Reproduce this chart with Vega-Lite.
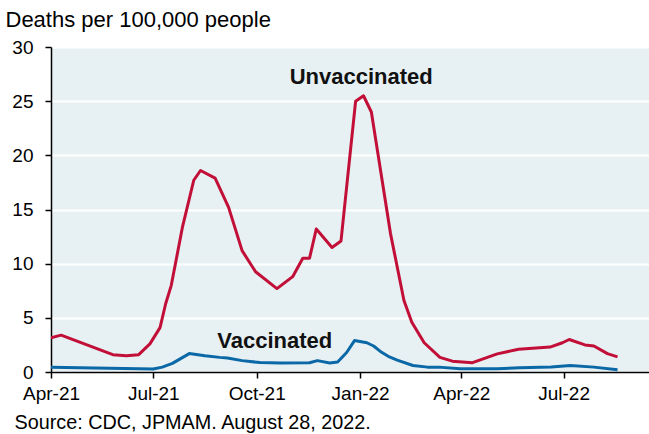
{
  "$schema": "https://vega.github.io/schema/vega-lite/v6.json",
  "width": 598,
  "height": 325,
  "autosize": {"type": "none"},
  "padding": {"left": 51, "top": 47, "right": 0, "bottom": 62},
  "background": "white",
  "config": {
    "view": {"fill": "#e7f0f3", "stroke": null},
    "font": "Liberation Sans"
  },
  "datasets": {
    "series": [
      {"series": "Unvaccinated", "date": "2021-04-01T00:00:00", "value": 3.15},
      {"series": "Unvaccinated", "date": "2021-04-10T00:00:00", "value": 3.4},
      {"series": "Unvaccinated", "date": "2021-05-26T00:00:00", "value": 1.6},
      {"series": "Unvaccinated", "date": "2021-06-07T00:00:00", "value": 1.5},
      {"series": "Unvaccinated", "date": "2021-06-18T00:00:00", "value": 1.6},
      {"series": "Unvaccinated", "date": "2021-06-28T00:00:00", "value": 2.6},
      {"series": "Unvaccinated", "date": "2021-07-07T00:00:00", "value": 4.1},
      {"series": "Unvaccinated", "date": "2021-07-12T00:00:00", "value": 6.3},
      {"series": "Unvaccinated", "date": "2021-07-17T00:00:00", "value": 8.0},
      {"series": "Unvaccinated", "date": "2021-07-27T00:00:00", "value": 13.4},
      {"series": "Unvaccinated", "date": "2021-08-06T00:00:00", "value": 17.7},
      {"series": "Unvaccinated", "date": "2021-08-12T00:00:00", "value": 18.6},
      {"series": "Unvaccinated", "date": "2021-08-25T00:00:00", "value": 17.9},
      {"series": "Unvaccinated", "date": "2021-09-06T00:00:00", "value": 15.2},
      {"series": "Unvaccinated", "date": "2021-09-18T00:00:00", "value": 11.2},
      {"series": "Unvaccinated", "date": "2021-09-30T00:00:00", "value": 9.25},
      {"series": "Unvaccinated", "date": "2021-10-19T00:00:00", "value": 7.7},
      {"series": "Unvaccinated", "date": "2021-11-02T00:00:00", "value": 8.8},
      {"series": "Unvaccinated", "date": "2021-11-11T00:00:00", "value": 10.5},
      {"series": "Unvaccinated", "date": "2021-11-17T00:00:00", "value": 10.5},
      {"series": "Unvaccinated", "date": "2021-11-23T00:00:00", "value": 13.2},
      {"series": "Unvaccinated", "date": "2021-12-07T00:00:00", "value": 11.5},
      {"series": "Unvaccinated", "date": "2021-12-15T00:00:00", "value": 12.1},
      {"series": "Unvaccinated", "date": "2021-12-28T00:00:00", "value": 25.0},
      {"series": "Unvaccinated", "date": "2022-01-04T00:00:00", "value": 25.5},
      {"series": "Unvaccinated", "date": "2022-01-11T00:00:00", "value": 24.0},
      {"series": "Unvaccinated", "date": "2022-01-28T00:00:00", "value": 12.8},
      {"series": "Unvaccinated", "date": "2022-02-09T00:00:00", "value": 6.6},
      {"series": "Unvaccinated", "date": "2022-02-16T00:00:00", "value": 4.6},
      {"series": "Unvaccinated", "date": "2022-02-27T00:00:00", "value": 2.7},
      {"series": "Unvaccinated", "date": "2022-03-13T00:00:00", "value": 1.35},
      {"series": "Unvaccinated", "date": "2022-03-24T00:00:00", "value": 1.0},
      {"series": "Unvaccinated", "date": "2022-04-11T00:00:00", "value": 0.86},
      {"series": "Unvaccinated", "date": "2022-05-03T00:00:00", "value": 1.67},
      {"series": "Unvaccinated", "date": "2022-05-22T00:00:00", "value": 2.1},
      {"series": "Unvaccinated", "date": "2022-06-19T00:00:00", "value": 2.3},
      {"series": "Unvaccinated", "date": "2022-06-30T00:00:00", "value": 2.7},
      {"series": "Unvaccinated", "date": "2022-07-06T00:00:00", "value": 3.0},
      {"series": "Unvaccinated", "date": "2022-07-20T00:00:00", "value": 2.5},
      {"series": "Unvaccinated", "date": "2022-07-28T00:00:00", "value": 2.4},
      {"series": "Unvaccinated", "date": "2022-08-09T00:00:00", "value": 1.7},
      {"series": "Unvaccinated", "date": "2022-08-18T00:00:00", "value": 1.4},
      {"series": "Vaccinated", "date": "2021-04-01T00:00:00", "value": 0.45},
      {"series": "Vaccinated", "date": "2021-07-01T00:00:00", "value": 0.28},
      {"series": "Vaccinated", "date": "2021-07-09T00:00:00", "value": 0.45},
      {"series": "Vaccinated", "date": "2021-07-18T00:00:00", "value": 0.8},
      {"series": "Vaccinated", "date": "2021-08-02T00:00:00", "value": 1.7},
      {"series": "Vaccinated", "date": "2021-08-16T00:00:00", "value": 1.5},
      {"series": "Vaccinated", "date": "2021-08-29T00:00:00", "value": 1.35},
      {"series": "Vaccinated", "date": "2021-09-05T00:00:00", "value": 1.3},
      {"series": "Vaccinated", "date": "2021-09-18T00:00:00", "value": 1.05},
      {"series": "Vaccinated", "date": "2021-10-04T00:00:00", "value": 0.87},
      {"series": "Vaccinated", "date": "2021-10-22T00:00:00", "value": 0.82},
      {"series": "Vaccinated", "date": "2021-11-17T00:00:00", "value": 0.85},
      {"series": "Vaccinated", "date": "2021-11-24T00:00:00", "value": 1.05},
      {"series": "Vaccinated", "date": "2021-12-05T00:00:00", "value": 0.84},
      {"series": "Vaccinated", "date": "2021-12-12T00:00:00", "value": 0.93},
      {"series": "Vaccinated", "date": "2021-12-20T00:00:00", "value": 1.8},
      {"series": "Vaccinated", "date": "2021-12-27T00:00:00", "value": 2.9},
      {"series": "Vaccinated", "date": "2022-01-07T00:00:00", "value": 2.7},
      {"series": "Vaccinated", "date": "2022-01-13T00:00:00", "value": 2.4},
      {"series": "Vaccinated", "date": "2022-01-19T00:00:00", "value": 1.9},
      {"series": "Vaccinated", "date": "2022-01-26T00:00:00", "value": 1.45},
      {"series": "Vaccinated", "date": "2022-02-03T00:00:00", "value": 1.1},
      {"series": "Vaccinated", "date": "2022-02-17T00:00:00", "value": 0.6},
      {"series": "Vaccinated", "date": "2022-03-02T00:00:00", "value": 0.45},
      {"series": "Vaccinated", "date": "2022-03-12T00:00:00", "value": 0.45},
      {"series": "Vaccinated", "date": "2022-03-31T00:00:00", "value": 0.3},
      {"series": "Vaccinated", "date": "2022-05-03T00:00:00", "value": 0.3},
      {"series": "Vaccinated", "date": "2022-05-23T00:00:00", "value": 0.4},
      {"series": "Vaccinated", "date": "2022-06-20T00:00:00", "value": 0.47},
      {"series": "Vaccinated", "date": "2022-07-07T00:00:00", "value": 0.6},
      {"series": "Vaccinated", "date": "2022-07-28T00:00:00", "value": 0.45},
      {"series": "Vaccinated", "date": "2022-08-18T00:00:00", "value": 0.2}
    ],
    "labels": [
      {"series": "Unvaccinated", "date": "2022-01-02T00:00:00", "value": 26.6},
      {"series": "Vaccinated", "date": "2021-10-17T00:00:00", "value": 2.26}
    ]
  },
  "layer": [
    {
      "data": {"name": "series"},
      "mark": {"type": "line", "strokeWidth": 3, "strokeJoin": "round", "clip": true},
      "encoding": {
        "x": {
          "field": "date",
          "type": "temporal",
          "scale": {"domain": [{"year": 2021, "month": 4, "date": 1}, {"year": 2022, "month": 9, "date": 15}], "nice": false},
          "axis": {
            "values": [
              {"year": 2021, "month": 4, "date": 1},
              {"year": 2021, "month": 7, "date": 1},
              {"year": 2021, "month": 10, "date": 1},
              {"year": 2022, "month": 1, "date": 1},
              {"year": 2022, "month": 4, "date": 1},
              {"year": 2022, "month": 7, "date": 1}
            ],
            "format": "%b-%y",
            "formatType": "time",
            "grid": false,
            "domainColor": "black",
            "domainWidth": 1.5,
            "tickColor": "black",
            "tickWidth": 1.5,
            "tickSize": 6,
            "labelFontSize": 19,
            "labelColor": "black",
            "labelPadding": 6,
            "labelFlush": false,
            "labelOverlap": false,
            "title": "Source: CDC, JPMAM. August 28, 2022.",
            "titleFontSize": 19.8,
            "titleFontWeight": "normal",
            "titleColor": "black",
            "titleAlign": "left",
            "titleBaseline": "alphabetic",
            "titleX": -37,
            "titleY": 56
          }
        },
        "y": {
          "field": "value",
          "type": "quantitative",
          "scale": {"domain": [0, 30], "nice": false},
          "axis": {
            "values": [0, 5, 10, 15, 20, 25, 30],
            "grid": true,
            "gridColor": "white",
            "gridWidth": 2,
            "domainColor": "black",
            "domainWidth": 1.5,
            "tickColor": "black",
            "tickWidth": 1.5,
            "tickSize": 6,
            "labelFontSize": 19,
            "labelColor": "black",
            "labelPadding": 12,
            "labelFlush": false,
            "title": "Deaths per 100,000 people",
            "titleFontSize": 22,
            "titleFontWeight": "normal",
            "titleColor": "black",
            "titleAngle": 0,
            "titleAlign": "left",
            "titleBaseline": "alphabetic",
            "titleX": -46,
            "titleY": -21
          }
        },
        "color": {
          "field": "series",
          "type": "nominal",
          "scale": {"domain": ["Unvaccinated", "Vaccinated"], "range": ["#c20f38", "#0b68a6"]},
          "legend": null
        }
      }
    },
    {
      "data": {"name": "labels"},
      "mark": {"type": "text", "fontSize": 22, "fontWeight": "bold", "align": "center", "baseline": "alphabetic", "color": "#111111"},
      "encoding": {
        "x": {"field": "date", "type": "temporal"},
        "y": {"field": "value", "type": "quantitative"},
        "text": {"field": "series", "type": "nominal"}
      }
    }
  ]
}
